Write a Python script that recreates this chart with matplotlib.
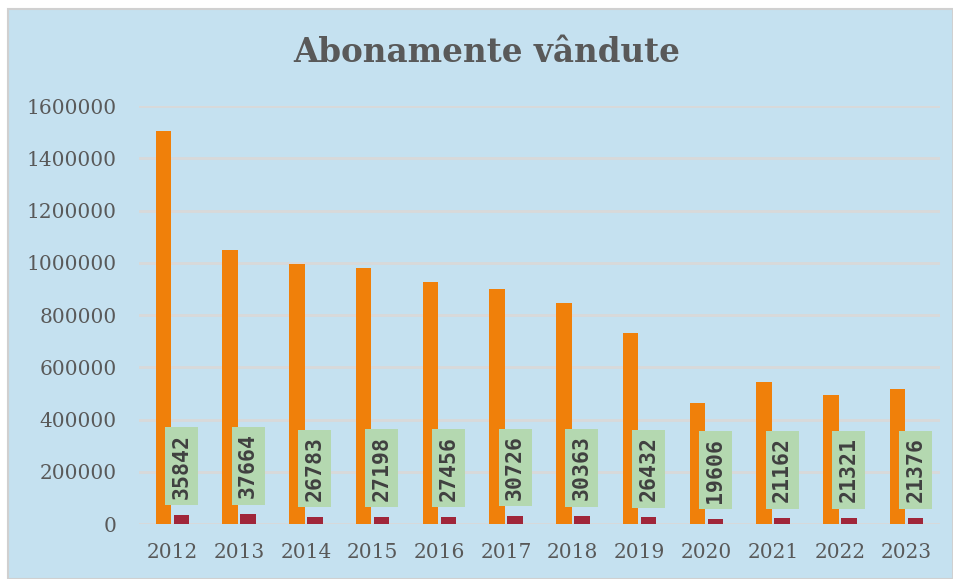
import matplotlib
matplotlib.use("Agg")
import matplotlib.pyplot as plt
from matplotlib.patches import Rectangle
import numpy as np

years = ["2012", "2013", "2014", "2015", "2016", "2017", "2018", "2019", "2020", "2021", "2022", "2023"]
total_values = [1504000, 1049000, 995000, 980000, 926000, 900000, 846000, 731000, 463000, 544000, 494000, 516000]
sold_values = [35842, 37664, 26783, 27198, 27456, 30726, 30363, 26432, 19606, 21162, 21321, 21376]
yticks = [0, 200000, 400000, 600000, 800000, 1000000, 1200000, 1400000, 1600000]
title = "Abonamente vândute"

bg = "#C5E1F0"
orange = "#F0800A"
red = "#A0263A"
grid_c = "#D9D9D9"
text_c = "#595959"

fig = plt.figure(figsize=(9.54, 5.79), dpi=100)
fig.patch.set_facecolor("white")
fig.patches.append(Rectangle((8/954, 0), 945/954, 1 - 9/579, transform=fig.transFigure,
                             facecolor=bg, edgecolor="#D0D0D0", linewidth=1.5, zorder=-10))

ax = fig.add_axes([139/954, 1 - 524/579, 801/954, 418/579])
ax.set_facecolor("none")

x = np.arange(len(years))
w = 0.23
off = 0.135
ax.bar(x - off, total_values, width=w, color=orange, zorder=3)
ax.bar(x + off, sold_values, width=w, color=red, zorder=3)

for xi, v in zip(x, sold_values):
    ax.annotate(str(v), xy=(xi + off, v), xytext=(0, 11.5), textcoords="offset points",
                rotation=90, ha="center", va="bottom", fontsize=15.5, fontweight="bold",
                family="DejaVu Sans Mono", color="#404040", zorder=5,
                bbox=dict(boxstyle="square,pad=0.3", facecolor="#B4D8B0", edgecolor="none"))

ax.set_xlim(-0.5, len(years) - 0.5)
ax.set_ylim(0, 1600000)
ax.set_yticks(yticks)
ax.set_yticklabels([str(t) for t in yticks])
ax.set_xticks(x)
ax.set_xticklabels(years)
ax.tick_params(axis="both", length=0, labelsize=14.5, labelcolor=text_c)
ax.tick_params(axis="y", pad=16)
ax.tick_params(axis="x", pad=14)
for lab in ax.get_xticklabels() + ax.get_yticklabels():
    lab.set_family("DejaVu Serif")
ax.yaxis.grid(True, color=grid_c, linewidth=2, zorder=0)
ax.set_axisbelow(True)
for s in ax.spines.values():
    s.set_visible(False)

fig.text(487/954, 1 - 52/579, title, ha="center", va="center", fontsize=23.5,
         fontweight="bold", family="DejaVu Serif", color=text_c)

fig.savefig("out.png", dpi=100)
